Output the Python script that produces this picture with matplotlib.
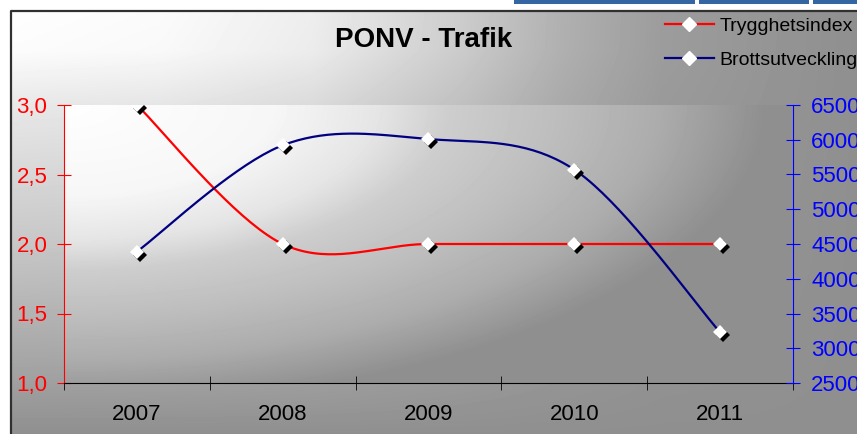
import numpy as np
import matplotlib.pyplot as plt
from matplotlib.lines import Line2D
from matplotlib.patches import Rectangle
from matplotlib import transforms

# data
years = ['2007', '2008', '2009', '2010', '2011']
trygghetsindex = [3.0, 2.0, 2.0, 2.0, 2.0]
brottsutveckling = [4390, 5920, 6010, 5570, 3230]

left_ticks = [1.0, 1.5, 2.0, 2.5, 3.0]
right_ticks = [2500, 3000, 3500, 4000, 4500, 5000, 5500, 6000, 6500]


def smooth(vals, steps=40):
    # excel style smoothed line (bezier through the points)
    p = np.column_stack([np.arange(len(vals), dtype=float), np.asarray(vals, float)])
    pp = np.vstack([p[:1], p, p[-1:]])
    t = np.linspace(0, 1, steps)[:, None]
    out = []
    for i in range(len(p) - 1):
        p0, p1, p2, p3 = pp[i], pp[i + 1], pp[i + 2], pp[i + 3]
        c1 = p1 + (p2 - p0) / 6
        c2 = p2 - (p3 - p1) / 6
        seg = (1 - t)**3 * p1 + 3 * (1 - t)**2 * t * c1 + 3 * (1 - t) * t**2 * c2 + t**3 * p2
        out.append(seg if i == 0 else seg[1:])
    s = np.vstack(out)
    return s[:, 0], s[:, 1]


W, H = 857, 434
plt.rcParams['font.family'] = ['Liberation Sans', 'DejaVu Sans']
fig = plt.figure(figsize=(W / 100, H / 100), dpi=100)

# chart area background
bg = fig.add_axes([0, 0, 1, 1], zorder=-10)
yy, xx = np.mgrid[0:H, 0:W]
gx = np.interp(xx - 11, [0, 150, 300, 450, 550, 650, 846], [1, 0.97, 0.85, 0.55, 0.3, 0.12, 0])
gy = np.interp(yy - 10, [0, 40, 95, 235, 373, 424], [1, 0.98, 0.8, 0.5, 0.15, 0])
img = 143 + 111 * gx * gy
img[(xx < 11) | (yy < 10)] = 255
bg.imshow(img, cmap='gray', vmin=0, vmax=255, extent=[0, W, H, 0], aspect='auto')
bg.plot([11.5, 11.5, W], [H, 10.5, 10.5], color='#303030', lw=1.6)
for x0, w in [(514, 181), (699, 110), (813, 44)]:
    bg.add_patch(Rectangle((x0, 0), w, 3.5, color='#3366a3', lw=0))
bg.set_xlim(0, W)
bg.set_ylim(H, 0)
bg.axis('off')

# plot area
ax = fig.add_axes([64 / W, 1 - 383 / H, 729 / W, 278 / H])
ax.patch.set_visible(False)
py, px = np.mgrid[0:278, 0:729]
r = np.sqrt((px / 700.0)**2 + (py / 300.0)**2)
g = np.interp(r, [0, 0.3, 0.45, 0.55, 0.7, 0.85, 1.0], [1, 0.93, 0.77, 0.56, 0.42, 0.26, 0])
ax.imshow(143 + 111 * g, cmap='gray', vmin=0, vmax=255, extent=[-0.5, 4.5, 1, 3],
          aspect='auto', origin='upper', zorder=0)
ax.set_xlim(-0.5, 4.5)
ax.set_ylim(1, 3)

ax2 = ax.twinx()
ax2.set_ylim(2500, 6500)

xs = np.arange(len(years))
ax.plot(*smooth(trygghetsindex), color='red', lw=1.6, zorder=3)
ax2.plot(*smooth(brottsutveckling), color='#000080', lw=1.6, zorder=3)

for a, vals in [(ax, trygghetsindex), (ax2, brottsutveckling)]:
    shadow = transforms.offset_copy(a.transData, fig=fig, x=3, y=-3, units='dots')
    a.plot(xs, vals, 'D', color='black', ms=7.5, mew=0, transform=shadow, zorder=4)
    a.plot(xs, vals, 'D', color='white', ms=7.5, mew=0, zorder=5)

# axes styling
ax.spines['top'].set_visible(False)
ax.spines['right'].set_visible(False)
ax.spines['left'].set_color('red')
ax.spines['bottom'].set_color('black')
for s in ['top', 'left', 'bottom']:
    ax2.spines[s].set_visible(False)
ax2.spines['right'].set_color('blue')

ax.set_yticks(left_ticks, [('%.1f' % v).replace('.', ',') for v in left_ticks])
ax.tick_params(axis='y', colors='red', direction='inout', length=10, labelsize=16, pad=7)
ax.set_xticks(xs, years)
ax.set_xticks(np.arange(-0.5, 5, 1), minor=True)
ax.tick_params(axis='x', which='major', length=0, labelsize=16, pad=15)
ax.tick_params(axis='x', which='minor', direction='inout', length=10, color='black')

ax2.set_yticks(right_ticks, [str(v) for v in right_ticks])
ax2.tick_params(axis='y', colors='blue', direction='inout', length=10, labelsize=16, pad=8)

fig.text(424 / W, 1 - 40 / H, 'PONV - Trafik', ha='center', va='center',
         fontsize=20, fontweight='bold')

handles = [Line2D([], [], color='red', lw=1.6, marker='D', ms=7.5, mfc='white', mec='white'),
           Line2D([], [], color='#000080', lw=1.6, marker='D', ms=7.5, mfc='white', mec='white')]
fig.legend(handles, ['Trygghetsindex', 'Brottsutveckling'], loc='upper left',
           bbox_to_anchor=(665 / W, 1 - 17 / H), frameon=False, fontsize=14,
           handlelength=2.5, handletextpad=0.3, labelspacing=0.85, borderpad=0, borderaxespad=0)

plt.savefig('out.png', dpi=100)
